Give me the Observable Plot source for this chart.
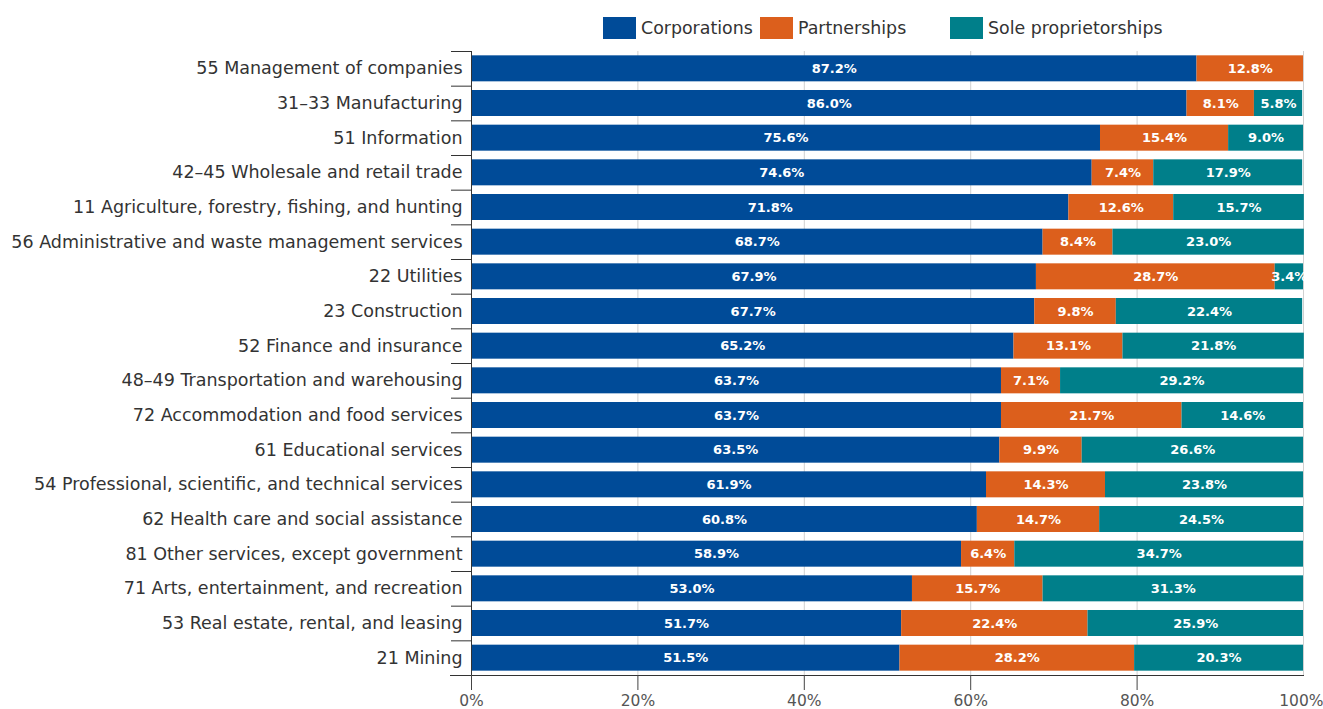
<!DOCTYPE html>
<html>
<head>
<meta charset="utf-8">
<script src="https://cdn.jsdelivr.net/npm/d3@7"></script>
<script src="https://cdn.jsdelivr.net/npm/@observablehq/plot@0.6"></script>
<style>
  html, body { margin: 0; padding: 0; background: #fff; }
  body { width: 1323px; height: 709px; overflow: hidden; font-family: "DejaVu Sans", sans-serif; }
  #legend { position: relative; height: 45px; }
  .item { position: absolute; top: 17px; display: flex; align-items: center; font-size: 17.4px; color: #333; }
  .sw { width: 33px; height: 22px; margin-right: 5px; }
  #chart svg { display: block; }
</style>
</head>
<body>
<div id="legend"></div>
<div id="chart"></div>
<script>
const sectors = [
  "55 Management of companies",
  "31–33 Manufacturing",
  "51 Information",
  "42–45 Wholesale and retail trade",
  "11 Agriculture, forestry, fishing, and hunting",
  "56 Administrative and waste management services",
  "22 Utilities",
  "23 Construction",
  "52 Finance and insurance",
  "48–49 Transportation and warehousing",
  "72 Accommodation and food services",
  "61 Educational services",
  "54 Professional, scientific, and technical services",
  "62 Health care and social assistance",
  "81 Other services, except government",
  "71 Arts, entertainment, and recreation",
  "53 Real estate, rental, and leasing",
  "21 Mining"
];
const corporations = [87.2, 86.0, 75.6, 74.6, 71.8, 68.7, 67.9, 67.7, 65.2, 63.7, 63.7, 63.5, 61.9, 60.8, 58.9, 53.0, 51.7, 51.5];
const partnerships = [12.8, 8.1, 15.4, 7.4, 12.6, 8.4, 28.7, 9.8, 13.1, 7.1, 21.7, 9.9, 14.3, 14.7, 6.4, 15.7, 22.4, 28.2];
const soleProps   = [0, 5.8, 9.0, 17.9, 15.7, 23.0, 3.4, 22.4, 21.8, 29.2, 14.6, 26.6, 23.8, 24.5, 34.7, 31.3, 25.9, 20.3];
const types = ["Corporations", "Partnerships", "Sole proprietorships"];
const colors = ["#004b98", "#dc5f1c", "#007f8a"];
const xTicks = [0, 20, 40, 60, 80, 100];

const data = [];
sectors.forEach((s, i) => {
  [corporations, partnerships, soleProps].forEach((arr, k) => {
    data.push({sector: s, type: types[k], value: arr[i]});
  });
});

// legend
const legendPos = [603, 760, 950];
const legend = document.getElementById("legend");
types.forEach((t, k) => {
  const el = document.createElement("div");
  el.className = "item";
  el.style.left = legendPos[k] + "px";
  el.innerHTML = `<span class="sw" style="background:${colors[k]}"></span><span>${t}</span>`;
  legend.appendChild(el);
});

const height = 664, marginTop = 6, marginBottom = 34;
const step = (height - marginTop - marginBottom) / sectors.length;
const pct = d => d + "%";

const plot = Plot.plot({
  width: 1323,
  height,
  marginLeft: 471,
  marginRight: 20,
  marginTop,
  marginBottom,
  style: {fontFamily: "DejaVu Sans, sans-serif", color: "#333", background: "#fff"},
  x: {domain: [0, 100], ticks: xTicks, tickFormat: pct, label: null},
  y: {domain: sectors, paddingInner: 0.25, paddingOuter: 0.125, round: false, label: null},
  color: {domain: types, range: colors},
  marks: [
    Plot.gridX({ticks: xTicks, stroke: "#d0d0d0", strokeOpacity: 1}),
    Plot.barX(data, Plot.stackX({x: "value", y: "sector", fill: "type", order: types})),
    Plot.text(data.filter(d => d.value > 0), Plot.stackX({
      x: "value", y: "sector", z: "type", order: types,
      text: d => d.value.toFixed(1) + "%",
      fill: "white", fontWeight: "bold", fontSize: 13
    })),
    Plot.axisY({tickSize: 0, tickPadding: 9, fontSize: 17.5, label: null}),
    Plot.axisY({tickSize: 20, tickFormat: () => "", dy: -step / 2, stroke: "#333", label: null}),
    Plot.axisY({ticks: [sectors[sectors.length - 1]], tickSize: 21, tickFormat: () => "", dy: step / 2, stroke: "#333", label: null}),
    Plot.frame({anchor: "left", stroke: "#333"}),
    Plot.frame({anchor: "bottom", stroke: "#333"}),
    Plot.axisX({ticks: xTicks.slice(0, -1), tickSize: 15, tickPadding: 4, fontSize: 15.5, stroke: "#444", fill: "#555", label: null, tickFormat: pct}),
    Plot.axisX({ticks: xTicks.slice(-1), tickSize: 15, tickPadding: 4, fontSize: 15.5, stroke: "#444", fill: "#555", label: null, tickFormat: pct, textAnchor: "end", dx: 20})
  ]
});
document.getElementById("chart").appendChild(plot);
</script>
</body>
</html>
